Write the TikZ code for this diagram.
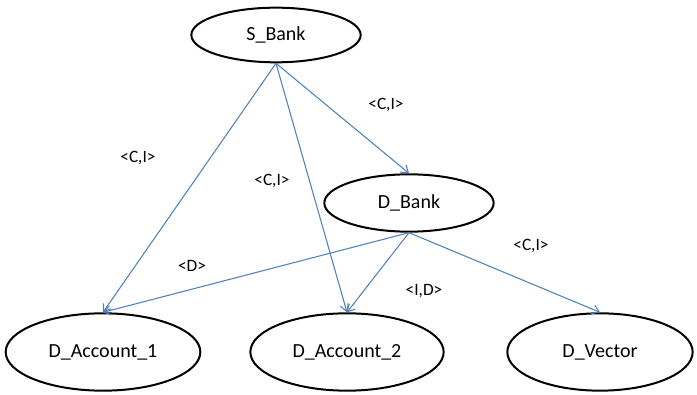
\documentclass[tikz,border=0pt]{standalone}
\usepackage{fontspec}
\setmainfont{Carlito}
\usetikzlibrary{shapes.geometric,arrows.meta}

\definecolor{linkblue}{RGB}{79,129,189}

\begin{document}
\begin{tikzpicture}
    [
        x = 0.75pt, y = -0.75pt,
        entity/.style = {draw, ellipse, line width=1.5pt, inner sep=0pt, font=\fontsize{15}{18}\selectfont},
        rights/.style = {font=\fontsize{13}{15}\selectfont},
        link/.style   = {draw=linkblue, line width=0.8pt, -{Straight Barb[length=5pt,width=7pt]}}
    ]
    \useasboundingbox (0,0) rectangle (697,395);

    \node [entity, minimum width=127pt, minimum height=41pt] at (276,35) (sBank) {S\_Bank};
    \node [entity, minimum width=127pt, minimum height=43pt] at (409,203) (dBank) {D\_Bank};
    \node [entity, minimum width=146pt, minimum height=58pt] at (103,352) (dAccountOne) {D\_Account\_1};
    \node [entity, minimum width=145pt, minimum height=58pt] at (347,352) (dAccountTwo) {D\_Account\_2};
    \node [entity, minimum width=139pt, minimum height=58pt] at (600,352) (dVector) {D\_Vector};

    \draw [link] (sBank.south) -- (dAccountOne.north);
    \draw [link] (sBank.south) -- (dAccountTwo.north);
    \draw [link] (sBank.south) -- (dBank.north);
    \draw [link] (dBank.south) -- (dAccountOne.north);
    \draw [link] (dBank.south) -- (dAccountTwo.north);
    \draw [link] (dBank.south) -- (dVector.north);

    \node [rights] at (386,105) (ciBank) {<C,I>};
    \node [rights] at (138,158) (ciAccountOne) {<C,I>};
    \node [rights] at (272,181) (ciAccountTwo) {<C,I>};
    \node [rights] at (192,266) (dAccount) {<D>};
    \node [rights] at (424,291) (idAccount) {<I,D>};
    \node [rights] at (531,246) (ciVector) {<C,I>};
\end{tikzpicture}
\end{document}
